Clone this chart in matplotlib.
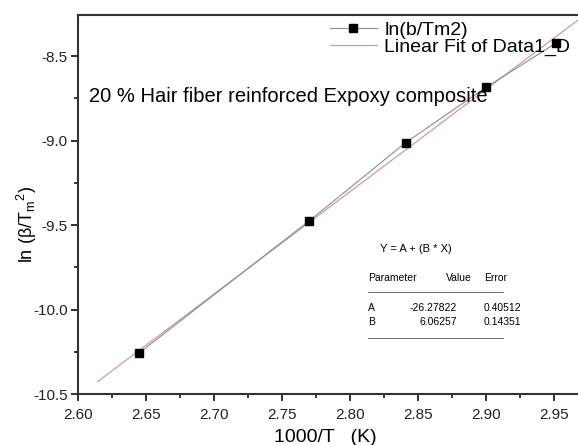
import matplotlib
matplotlib.use("Agg")
import matplotlib.pyplot as plt
import numpy as np
from matplotlib.ticker import MultipleLocator, FixedLocator, FormatStrFormatter

plt.rcParams['font.family'] = ['Liberation Sans', 'DejaVu Sans']
plt.rcParams['mathtext.fontset'] = 'custom'
plt.rcParams['mathtext.rm'] = 'Liberation Sans'

# data
x_data = [2.645, 2.770, 2.841, 2.900, 2.9515]
y_data = [-10.258, -9.476, -9.012, -8.685, -8.423]
fit_A = -26.27822
fit_B = 6.06257
fit_A_err = 0.40512
fit_B_err = 0.14351
fit_x_range = [2.6147, 3.0]
x_ticks = [2.60, 2.65, 2.70, 2.75, 2.80, 2.85, 2.90, 2.95]

fig = plt.figure(figsize=(5.78, 4.45), dpi=100)
ax = fig.add_axes([0.1344, 0.1146, 1.076 - 0.1344, 0.9663 - 0.1146])

fx = np.array(fit_x_range)
fy = fit_A + fit_B * fx
ax.plot(x_data, y_data, color='#8c8c8c', lw=0.8, marker='s', ms=5.5,
        mfc='black', mec='black', label='ln(b/Tm2)', zorder=3)
ax.plot(fx, fy, color='#d09a9a', lw=0.9, label='Linear Fit of Data1_D', zorder=2)

ax.set_xlim(2.60, 3.00)
ax.set_ylim(-10.5, -8.256)
ax.xaxis.set_major_locator(FixedLocator(x_ticks))
ax.xaxis.set_minor_locator(MultipleLocator(0.025))
ax.yaxis.set_major_locator(MultipleLocator(0.5))
ax.yaxis.set_minor_locator(MultipleLocator(0.25))
ax.xaxis.set_major_formatter(FormatStrFormatter('%.2f'))
ax.yaxis.set_major_formatter(FormatStrFormatter('%.1f'))
ax.tick_params(which='major', direction='out', length=5, width=1.3, labelsize=11, colors='#222222')
ax.tick_params(axis='x', which='major', pad=5)
ax.tick_params(axis='y', which='major', pad=2)
ax.tick_params(which='minor', direction='out', length=3, width=1.1)
for s in ax.spines.values():
    s.set_linewidth(1.5)
    s.set_color('#333333')

fig.text(325 / 578, 1 - 438 / 445, '1000/T   (K)', fontsize=14, ha='center', va='center')
fig.text(27 / 578, 1 - 224 / 445, r'ln ($\mathrm{\beta}$/T$_\mathrm{m}$$^\mathrm{2}$)', fontsize=13,
         rotation=90, ha='center', va='center')

fig.text(89 / 578, 1 - 96 / 445, '20 % Hair fiber reinforced Expoxy composite', fontsize=14.5,
         va='center', ha='left')

leg = ax.legend(loc='upper left', bbox_to_anchor=(330 / 578, 1 - 21 / 445),
                bbox_transform=fig.transFigure, frameon=False, fontsize=14,
                handlelength=2.4, handletextpad=0.4, labelspacing=0.0, borderpad=0, borderaxespad=0)

sfs = 7.5
fig.text(380 / 578, 1 - 249 / 445, 'Y = A + (B * X)', fontsize=8, va='center', ha='left')
fig.text(368 / 578, 1 - 278 / 445, 'Parameter', fontsize=sfs, va='center', ha='left')
fig.text(446 / 578, 1 - 278 / 445, 'Value', fontsize=sfs, va='center', ha='left')
fig.text(484 / 578, 1 - 278 / 445, 'Error', fontsize=sfs, va='center', ha='left')
fig.add_artist(plt.Line2D([368 / 578, 503 / 578], [1 - 292 / 445, 1 - 292 / 445], color='#555555', lw=0.6))
fig.text(368 / 578, 1 - 308 / 445, 'A', fontsize=sfs, va='center', ha='left')
fig.text(457 / 578, 1 - 308 / 445, f'{fit_A:.5f}', fontsize=sfs, va='center', ha='right')
fig.text(484 / 578, 1 - 308 / 445, f'{fit_A_err:.5f}', fontsize=sfs, va='center', ha='left')
fig.text(368 / 578, 1 - 322 / 445, 'B', fontsize=sfs, va='center', ha='left')
fig.text(457 / 578, 1 - 322 / 445, f'{fit_B:.5f}', fontsize=sfs, va='center', ha='right')
fig.text(484 / 578, 1 - 322 / 445, f'{fit_B_err:.5f}', fontsize=sfs, va='center', ha='left')
fig.add_artist(plt.Line2D([368 / 578, 503 / 578], [1 - 338 / 445, 1 - 338 / 445], color='#555555', lw=0.6))

fig.savefig('out.png', dpi=100)
